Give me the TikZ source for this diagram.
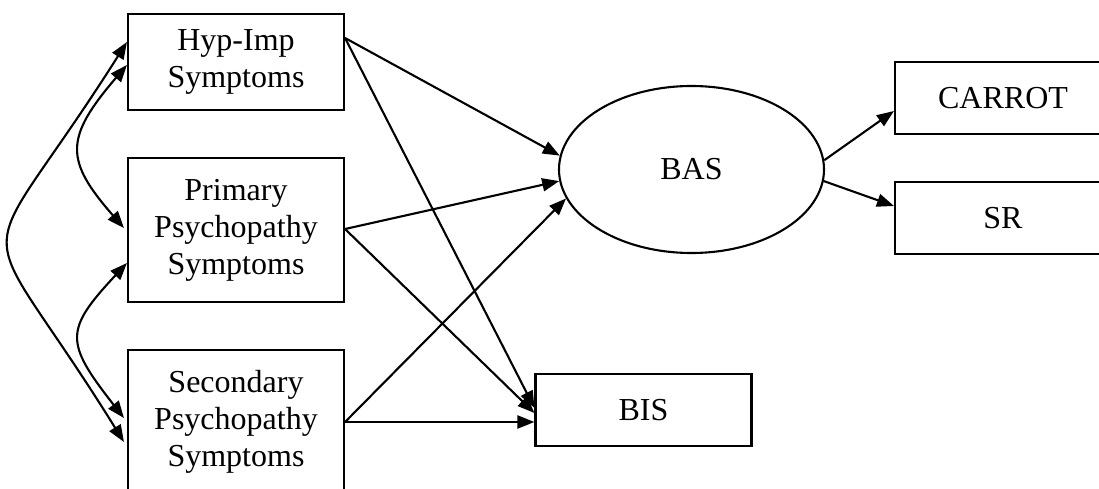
\documentclass[tikz,border=0pt]{standalone}
\usepackage{fontspec}
\setmainfont{Liberation Serif}
\usetikzlibrary{arrows.meta,shapes.geometric}

\begin{document}
\begin{tikzpicture}[x=1pt,y=-1pt,
  every node/.style={font=\fontsize{32}{37}\selectfont, align=center, inner sep=0pt},
  box/.style={draw, line width=2.1pt, minimum width=216pt},
  latent/.style={draw, ellipse, line width=2.1pt, minimum width=265pt, minimum height=167pt},
  path/.style={line width=2.1pt, -{Triangle[length=17pt,width=13pt]}},
  cov/.style={line width=2.1pt, {Triangle[length=17pt,width=13pt]}-{Triangle[length=17pt,width=13pt]}}]
  \clip (0,0) rectangle (1099,489);
  \fill[white] (0,0) rectangle (1099,489);

  % observed predictors
  \node[box, minimum height=96pt]  (hyp)  at (236,62)  {Hyp-Imp\\Symptoms};
  \node[box, minimum height=144pt] (prim) at (236,230) {Primary\\Psychopathy\\Symptoms};
  \node[box, minimum height=144pt] (sec)  at (236,422) {Secondary\\Psychopathy\\Symptoms};

  % latent factor and outcomes
  \node[latent] (bas) at (691.5,169.5) {BAS};
  \node[box, minimum height=72pt] (bis)    at (643.5,410) {BIS};
  \node[box, minimum height=72pt] (carrot) at (1003,98)   {CARROT};
  \node[box, minimum height=72pt] (sr)     at (1003,218)  {SR};

  % regression paths
  \draw[path] ([yshift=24pt]hyp.east) -- (bas.174.5);
  \draw[path] ([yshift=24pt]hyp.east) -- ([yshift=2pt]bis.west);
  \draw[path] ([yshift=1pt]prim.east) -- (bas.185.5);
  \draw[path] ([yshift=1pt]prim.east) -- ([yshift=-3pt]bis.west);
  \draw[path] (sec.east) -- (bas.193.3);
  \draw[path] (sec.east) -- ([yshift=-12pt]bis.west);

  % measurement paths
  \draw[path] (bas.4) -- ([yshift=-13pt]carrot.west);
  \draw[path] (bas.-5.5) -- ([yshift=12pt]sr.west);

  % covariances among predictors
  \coordinate (h1) at ([yshift=20pt]hyp.west);
  \coordinate (h2) at ([yshift=-3pt]hyp.west);
  \coordinate (p1) at ([yshift=2pt,xshift=-3pt]prim.west);
  \coordinate (p2) at ([yshift=-33pt]prim.west);
  \coordinate (s1) at ([yshift=4pt,xshift=-3pt]sec.west);
  \coordinate (s2) at ([yshift=-20pt,xshift=-3pt]sec.west);
  \draw[cov] (h1) .. controls (-30,290) and (-30,194) .. (s2);
  \draw[cov] (h2) .. controls (64.5,138) and (64.5,160) .. (p1);
  \draw[cov] (p2) .. controls (64.5,330) and (64.5,342) .. (s1);
\end{tikzpicture}
\end{document}
